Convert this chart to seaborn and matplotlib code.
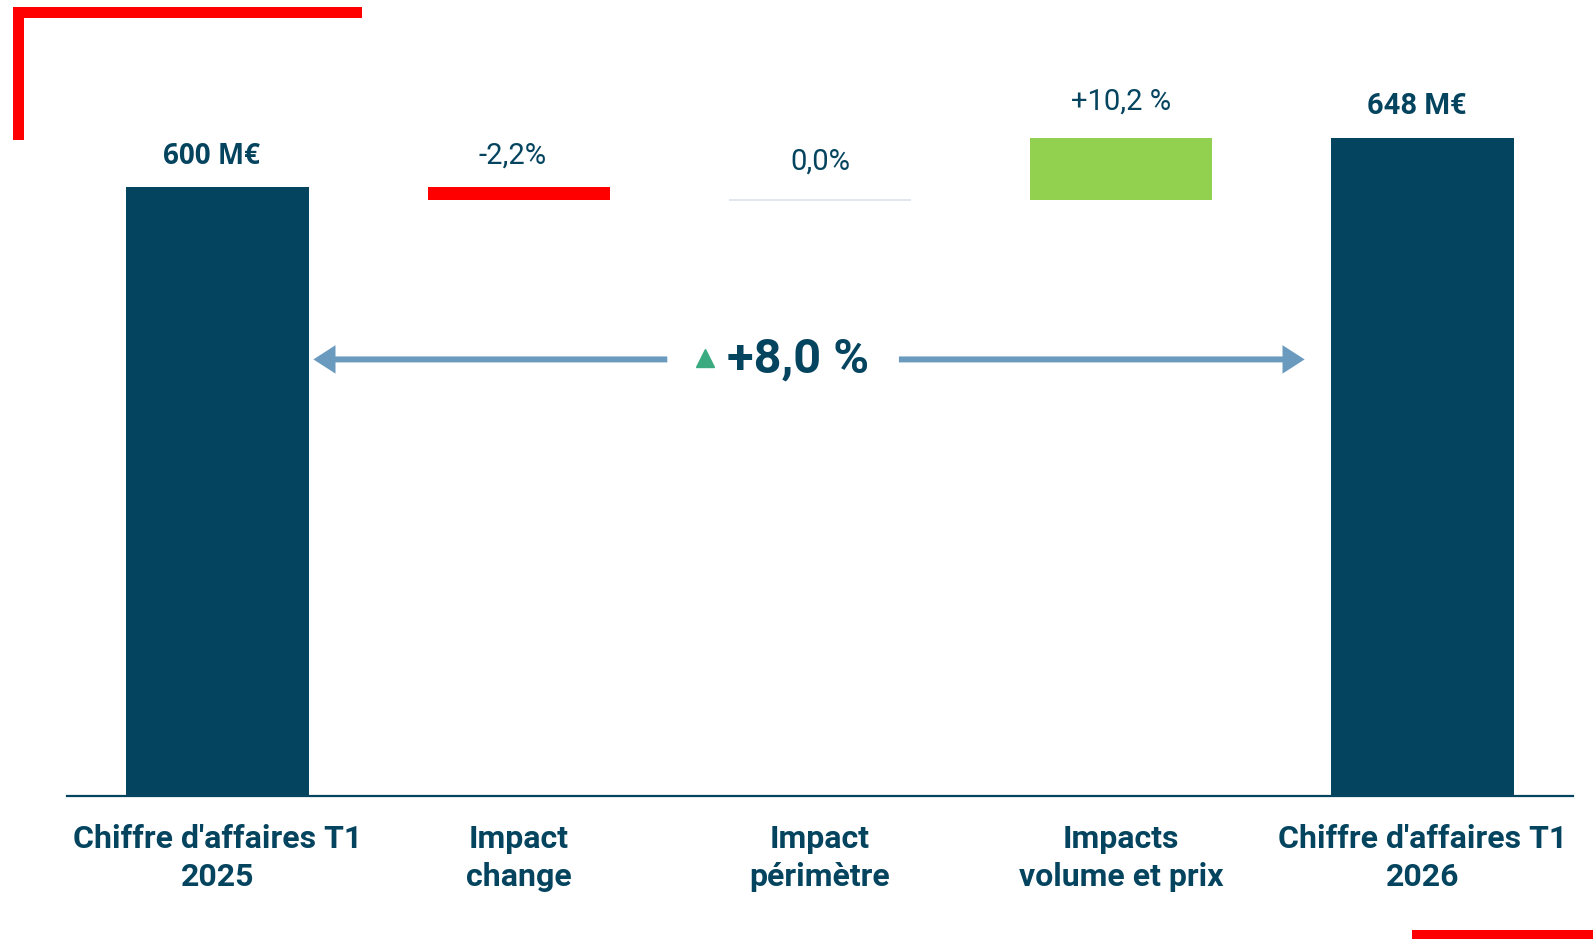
import numpy as np
import pandas as pd
import matplotlib
matplotlib.use("Agg")
import matplotlib.pyplot as plt
import matplotlib.patches as mpatches
import seaborn as sns

# ---- data ----
categories = ["Chiffre d'affaires T1\n2025", "Impact\nchange", "Impact\npérimètre",
              "Impacts\nvolume et prix", "Chiffre d'affaires T1\n2026"]
start_value = 600.0          # M€
end_value = 648.0            # M€
impact_pct = [-2.2, 0.0, 10.2]
value_labels = ["600 M€", "-2,2%", "0,0%", "+10,2 %", "648 M€"]
total_change_label = "+8,0 %"

# ---- derived waterfall geometry ----
deltas = [start_value * p / 100.0 for p in impact_pct]
heights = [start_value] + deltas + [end_value]
bottoms = [0.0]
run = start_value
for d in deltas:
    bottoms.append(run)
    run += d
bottoms.append(0.0)

navy = "#05445F"
red = "#FF0000"
green = "#92D050"
zero_col = "#DDE3EC"
arrow_col = "#6A9BBF"
tri_col = "#3AAA80"
bar_colors = [navy, red, zero_col, green, navy]

sns.set_theme(style="white")
plt.rcParams["font.family"] = ["Roboto", "DejaVu Sans"]

W, H = 1593, 939
fig = plt.figure(figsize=(W / 100, H / 100), dpi=100)
ax = fig.add_axes([67 / W, (H - 796) / H, 1506 / W, 796 / H])

df = pd.DataFrame({"cat": categories, "h": heights, "b": bottoms})
bar_w = 0.606
sns.barplot(data=df, x="cat", y="h", bottom=df["b"].values, color=navy,
            width=bar_w, ax=ax, errorbar=None, saturation=1, linewidth=0)

for p, c in zip(ax.patches, bar_colors):
    p.set_facecolor(c)
    if c == zero_col:
        p.set_edgecolor(zero_col)
        p.set_linewidth(1.2)

ax.set_xlim(-0.5, 4.5)
ax.set_ylim(0, 784)
ax.set_xlabel("")
ax.set_ylabel("")
ax.set_yticks([])
ax.set_xticks(range(len(categories)))
ax.set_xticklabels(categories, fontsize=23, fontweight="bold", color=navy, linespacing=1.32)
ax.tick_params(axis="x", length=0, pad=20.5)
for s in ["top", "left", "right"]:
    ax.spines[s].set_visible(False)
ax.spines["bottom"].set_color(navy)
ax.spines["bottom"].set_linewidth(1.6)

# ---- value labels ----
label_offsets = [30, 31, 38, 36, 32]
label_dx = [-0.02, -0.02, 0.0, 0.0, -0.02]
for i, (lab, h, b) in enumerate(zip(value_labels, heights, bottoms)):
    top = max(b, b + h)
    y = top + label_offsets[i]
    x = i + label_dx[i]
    if i == 0:
        ax.text(x, y, lab, ha="center", va="center", fontsize=20,
                fontweight="bold", color=navy, family=["Open Sans", "DejaVu Sans"])
    elif i == len(value_labels) - 1:
        ax.text(x, y, lab, ha="center", va="center", fontsize=21,
                fontweight="bold", color=navy)
    else:
        ax.text(x, y, lab, ha="center", va="center", fontsize=21,
                color=navy)

# ---- total change arrows ----
y_arrow = 430
half = bar_w / 2
astyle = "-|>,head_length=0.7,head_width=0.45"
ax.annotate("", xy=(0 + half + 0.015, y_arrow), xytext=(1.493, y_arrow),
            arrowprops=dict(arrowstyle=astyle, lw=4.3, color=arrow_col,
                            shrinkA=0, shrinkB=0, mutation_scale=14,
                            capstyle="butt", joinstyle="miter"))
ax.annotate("", xy=(4 - half - 0.088, y_arrow), xytext=(2.262, y_arrow),
            arrowprops=dict(arrowstyle=astyle, lw=4.3, color=arrow_col,
                            shrinkA=0, shrinkB=0, mutation_scale=14,
                            capstyle="butt", joinstyle="miter"))
ax.plot([1.619], [y_arrow + 1], marker="^", ms=13, color=tri_col, linestyle="none")
ax.text(1.927, y_arrow, total_change_label, ha="center", va="center", fontsize=35,
        fontweight="bold", color=navy)

# ---- red corner decorations ----
fig.add_artist(mpatches.Rectangle((13 / W, (H - 18) / H), 349 / W, 11 / H,
                                  transform=fig.transFigure, color=red, lw=0))
fig.add_artist(mpatches.Rectangle((13 / W, (H - 140) / H), 11 / W, 133 / H,
                                  transform=fig.transFigure, color=red, lw=0))
fig.add_artist(mpatches.Rectangle((1412 / W, 0), 181 / W, 9 / H,
                                  transform=fig.transFigure, color=red, lw=0))

fig.savefig("out.png", dpi=100, facecolor="white")
